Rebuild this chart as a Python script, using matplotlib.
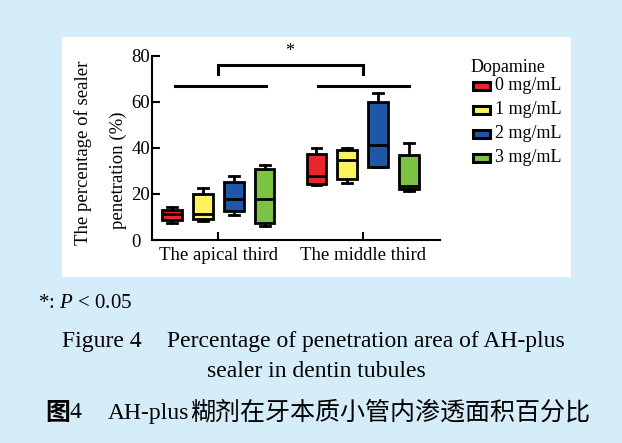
import matplotlib
matplotlib.use('Agg')
import matplotlib.pyplot as plt
from matplotlib.patches import Rectangle

plt.rcParams['font.family'] = ['Liberation Serif', 'Noto Sans CJK SC']
plt.rcParams['mathtext.fontset'] = 'custom'
plt.rcParams['mathtext.rm'] = 'Liberation Serif'
plt.rcParams['mathtext.it'] = 'Liberation Serif:italic'

groups = ['The apical third', 'The middle third']
doses = ['0 mg/mL', '1 mg/mL', '2 mg/mL', '3 mg/mL']
colors = ['#e8262b', '#fff35c', '#1f56a8', '#7cc243']

# per dose: [apical, middle]
mins = [[7.5, 24.0], [8.2, 24.6], [10.7, 31.8], [6.1, 21.4]]
q1s = [[8.7, 24.3], [9.0, 26.3], [12.7, 31.8], [7.5, 22.3]]
meds = [[11.5, 27.8], [11.3, 34.7], [17.8, 41.1], [17.8, 23.4]]
q3s = [[13.2, 37.3], [19.8, 39.1], [25.3, 60.0], [30.7, 36.8]]
maxs = [[14.5, 40.1], [22.7, 39.9], [27.9, 63.7], [32.7, 42.0]]

sig_line_y = 67
bracket_y = 75.8
bracket_drop = 72
star_y = 81.9

W, H = 622, 443
fig = plt.figure(figsize=(W / 100, H / 100), dpi=100)
fig.patch.set_facecolor('#d5ecf9')

def px(x, y):
    return x / W, 1 - y / H

# white panel
fig.add_artist(Rectangle((62 / W, 1 - 277 / H), (571 - 62) / W, 240 / H,
                         transform=fig.transFigure, facecolor='white',
                         edgecolor='none', zorder=0))

ax = fig.add_axes([151.7 / W, 1 - 240 / H, (440 - 151.7) / W, 184.3 / H])
ax.set_facecolor('none')

offsets = [-0.32, -0.107, 0.107, 0.32]
width = 0.138
for d in range(4):
    stats = []
    pos = []
    for g in range(2):
        stats.append(dict(med=meds[d][g], q1=q1s[d][g], q3=q3s[d][g],
                          whislo=mins[d][g], whishi=maxs[d][g], fliers=[]))
        pos.append(g + 1 + offsets[d])
    ax.bxp(stats, positions=pos, widths=width, patch_artist=True,
           showfliers=False, capwidths=width * 0.5,
           boxprops=dict(facecolor=colors[d], edgecolor='black', linewidth=2.0),
           medianprops=dict(color='black', linewidth=2.0),
           whiskerprops=dict(color='black', linewidth=2.0),
           capprops=dict(color='black', linewidth=2.0))

ax.set_xlim(0.538, 2.536)
ax.set_ylim(0, 80)
ax.set_yticks([0, 20, 40, 60, 80])
ax.set_xticks([1, 2])
ax.set_xticklabels(groups)
for s in ['top', 'right']:
    ax.spines[s].set_visible(False)
for s in ['left', 'bottom']:
    ax.spines[s].set_linewidth(1.5)
ax.tick_params(axis='both', direction='in', length=6, width=1.5)
ax.tick_params(axis='y', pad=14.6, labelsize=13.5)
ax.tick_params(axis='x', pad=5, labelsize=13.5)
for lab in ax.get_yticklabels():
    lab.set_horizontalalignment('left')

# significance
ax.plot([0.70, 1.33], [sig_line_y, sig_line_y], color='black', lw=2.2, clip_on=False)
ax.plot([1.69, 2.32], [sig_line_y, sig_line_y], color='black', lw=2.2, clip_on=False)
ax.plot([1, 1, 2, 2], [bracket_drop, bracket_y, bracket_y, bracket_drop],
        color='black', lw=2.2, clip_on=False, solid_joinstyle='miter')
ax.text(1.495, star_y, '*', ha='center', va='center', fontsize=13, clip_on=False)

# y label
fig.text(*px(83, 152.5), 'The percentage of sealer', rotation=90,
         ha='center', va='center', fontsize=13.5)
fig.text(*px(118, 170), 'penetration (%)', rotation=90,
         ha='center', va='center', fontsize=13.5)

# legend
fig.text(*px(471, 68), 'Dopamine', ha='left', va='center', fontsize=13)
for i, (lab, c) in enumerate(zip(doses, colors)):
    yc = 86 + 24 * i
    fig.add_artist(Rectangle(px(473, yc + 4), 17 / W, 8 / H,
                             transform=fig.transFigure, facecolor=c,
                             edgecolor='black', linewidth=2.2))
    fig.text(*px(495, yc), lab, ha='left', va='center', fontsize=13)

# captions
fig.text(*px(38, 308), '*: $P$ < 0.05', ha='left', va='baseline', fontsize=15)
fig.text(*px(62, 347), 'Figure 4', ha='left', va='baseline', fontsize=17)
fig.text(*px(565, 347), 'Percentage of penetration area of AH-plus',
         ha='right', va='baseline', fontsize=17)
fig.text(*px(316.5, 377), 'sealer in dentin tubules', ha='center',
         va='baseline', fontsize=17)
fig.text(*px(45, 413), '图', ha='left', va='center', fontsize=18,
         family=['Noto Sans CJK SC'], fontweight='bold')
fig.text(*px(70, 413), '4', ha='left', va='center', fontsize=17)
fig.text(*px(108, 413), 'AH-plus', ha='left', va='center', fontsize=17)
fig.text(*px(590, 413), '糊剂在牙本质小管内渗透面积百分比', ha='right',
         va='center', fontsize=18, family=['Noto Sans CJK SC'])

fig.savefig('out.png', dpi=100, facecolor=fig.get_facecolor())
